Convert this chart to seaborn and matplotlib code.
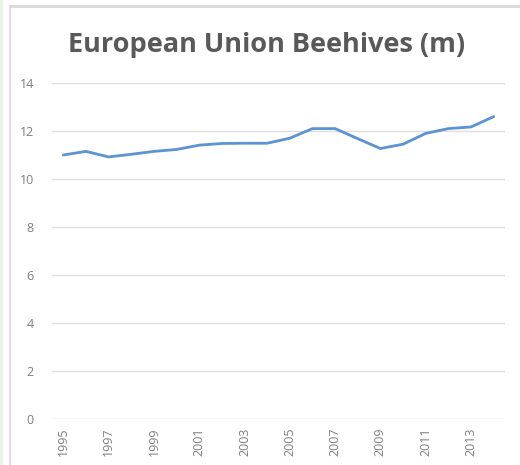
import pandas as pd
import numpy as np
import matplotlib.pyplot as plt
import seaborn as sns
from matplotlib.lines import Line2D

# --- datos ---
years = list(range(1995, 2015))
hives = [11.0, 11.15, 10.92, 11.03, 11.15, 11.23, 11.41, 11.48, 11.49, 11.49,
         11.7, 12.1, 12.1, 11.68, 11.27, 11.45, 11.9, 12.1, 12.17, 12.6]
y_ticks = [0, 2, 4, 6, 8, 10, 12, 14]
x_labels = [str(y) for y in years[::2]]

df = pd.DataFrame({"year": years, "hives": hives})

sns.set_style("white")
plt.rcParams["font.family"] = ["Open Sans", "DejaVu Sans"]

fig = plt.figure(figsize=(5.2, 4.65), dpi=100)
ax = fig.add_axes([52 / 520, 1 - 419 / 465, 453 / 520, 336 / 465])

sns.lineplot(data=df, x="year", y="hives", ax=ax, color="#5b93d3", linewidth=2)

ax.set_xlim(1994.5, 2014.5)
ax.set_ylim(0, 14)
ax.set_yticks(y_ticks)
ax.set_xticks(years[::2])
ax.set_xticklabels(x_labels, rotation=90)
ax.tick_params(axis="both", length=0, labelsize=9, colors="#7f7f7f")
ax.tick_params(axis="y", pad=13)
ax.tick_params(axis="x", pad=6)
ax.yaxis.grid(True, color="#dedede", linewidth=1)
ax.set_axisbelow(True)
for s in ax.spines.values():
    s.set_visible(False)
ax.set_xlabel("")
ax.set_ylabel("")

fig.text(267 / 520, 1 - 45 / 465, "European Union Beehives (m)", ha="center", va="center",
         fontsize=19.5, fontweight="bold", color="#595959")

# marco del recuadro original
fig.add_artist(Line2D([10 / 520, 10 / 520], [0, 1 - 6 / 465], color="#d9d9d9", linewidth=1.2))
fig.add_artist(Line2D([10 / 520, 1], [1 - 6 / 465, 1 - 6 / 465], color="#d9d9d9", linewidth=2))
fig.add_artist(Line2D([1 / 520, 1 / 520], [0, 1], color="#eaf5e8", linewidth=3))

plt.savefig("out.png", dpi=100)
plt.close()
